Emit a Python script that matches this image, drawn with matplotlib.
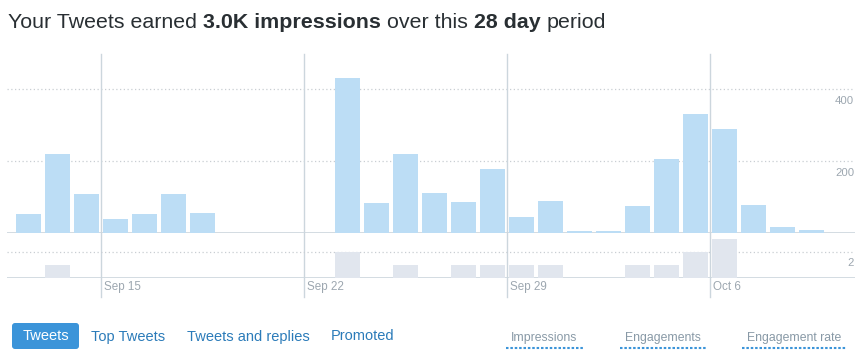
import numpy as np
import matplotlib
matplotlib.use('Agg')
import matplotlib.pyplot as plt
from matplotlib.patches import FancyBboxPatch

plt.rcParams['font.family'] = ['Liberation Sans', 'DejaVu Sans']

# daily values, Sep 12 .. Oct 9
impressions = [54, 220, 109, 40, 54, 109, 56, 0, 0, 0, 0, 431, 84, 220, 112,
               87, 179, 45, 90, 6, 6, 76, 206, 331, 290, 79, 18, 9]
engagements = [0, 1, 0, 0, 0, 0, 0, 0, 0, 0, 0, 2, 0, 1, 0,
               1, 1, 1, 1, 0, 0, 1, 1, 2, 3, 0, 0, 0]
week_idx = [3, 10, 17, 24]
week_labels = ['Sep 15', 'Sep 22', 'Sep 29', 'Oct 6']
imp_ticks = [200, 400]
eng_ticks = [2]
tabs = ['Tweets', 'Top Tweets', 'Tweets and replies', 'Promoted']
metrics = ['Impressions', 'Engagements', 'Engagement rate']
title_parts = [('Your Tweets earned', 'normal'), ('3.0K impressions', 'bold'),
               ('over this', 'normal'), ('28 day', 'bold'), ('period', 'normal')]

W, H = 859, 358
fig = plt.figure(figsize=(W / 100, H / 100), dpi=100)

blue_bar = '#bcddf5'
grey_bar = '#e1e6ee'
line_col = '#ccd6dd'
grid_col = '#c9ced3'
lab_col = '#9da7b0'

#%% charts
x = np.arange(len(impressions))
ax1 = fig.add_axes([7 / W, 1 - 233.3 / H, 848 / W, 179.3 / H])
ax2 = fig.add_axes([7 / W, 1 - 278.3 / H, 848 / W, 45 / H])
for ax in (ax1, ax2):
    ax.set_xlim(-0.741, 28.5)
    ax.axis('off')

ax1.set_ylim(0, 498)
ax2.set_ylim(0, 3.46)

ax1.bar(x, impressions, width=0.862, color=blue_bar, zorder=2)
ax2.bar(x, engagements, width=0.862, color=grey_bar, zorder=2)

for v in imp_ticks:
    ax1.axhline(v, color=grid_col, lw=0.9, ls=(0, (1, 2)), zorder=1)
    ax1.annotate(str(v), xy=(1, v), xycoords=('axes fraction', 'data'),
                 xytext=(-1, -15), textcoords='offset pixels', ha='right',
                 va='baseline', fontsize=8.2, color=lab_col)
for v in eng_ticks:
    ax2.axhline(v, color=grid_col, lw=0.9, ls=(0, (1, 2)), zorder=1)
    ax2.annotate(str(v), xy=(1, v), xycoords=('axes fraction', 'data'),
                 xytext=(-1, -14), textcoords='offset pixels', ha='right',
                 va='baseline', fontsize=8.2, color=lab_col)

ax1.axhline(0, color=line_col, lw=1.2, zorder=1.5)
ax2.axhline(0, color=line_col, lw=1.2, zorder=1.5)

for i, lab in zip(week_idx, week_labels):
    ax1.axvline(i - 0.5, ymin=-0.355, ymax=1, color=line_col, lw=1.0,
                clip_on=False, zorder=4)
    ax2.annotate(lab, xy=(i - 0.5, 0), xycoords=('data', 'axes fraction'),
                 xytext=(3, -12), textcoords='offset pixels', ha='left',
                 va='baseline', fontsize=8.4, color=lab_col)

#%% overlay in pixel coordinates for title and tabs
ov = fig.add_axes([0, 0, 1, 1])
ov.set_xlim(0, W)
ov.set_ylim(H, 0)
ov.axis('off')

r = fig.canvas.get_renderer()
def text_w(s, **kw):
    t = ov.text(0, 0, s, **kw)
    w = t.get_window_extent(renderer=r).width
    t.remove()
    return w

tsize = 15.4
xpos = 8
for s, wt in title_parts:
    t = ov.text(xpos, 27.5, s, fontsize=tsize, fontweight=wt, color='#292f33',
                va='baseline', ha='left')
    xpos += t.get_window_extent(renderer=r).width
    xpos += text_w('a a', fontsize=tsize) - text_w('aa', fontsize=tsize)

# tabs
ov.add_patch(FancyBboxPatch((12, 323), 67, 26, boxstyle='round,pad=0,rounding_size=3',
                            fc='#3b94d9', ec='none'))
tab_x = [45.5, 91, 187, 331]
for i, (s, tx) in enumerate(zip(tabs, tab_x)):
    if i == 0:
        ov.text(tx, 336.5, s, fontsize=10.5, color='white', ha='center', va='center')
    else:
        ov.text(tx, 336.5, s, fontsize=10.5, color='#2b7bb9', ha='left', va='center')

# metric selectors
met_x = [511, 625, 747]
for s, mx in zip(metrics, met_x):
    t = ov.text(mx, 338, s, fontsize=8.8, color='#8899a6', ha='left', va='center')
    w = t.get_window_extent(renderer=r).width
    ov.plot([mx - 5, mx + w + 6], [347.7, 347.7], color='#3b94d9', lw=1.5,
            ls=(0, (1.2, 0.9)))

fig.savefig('out.png', dpi=100)
